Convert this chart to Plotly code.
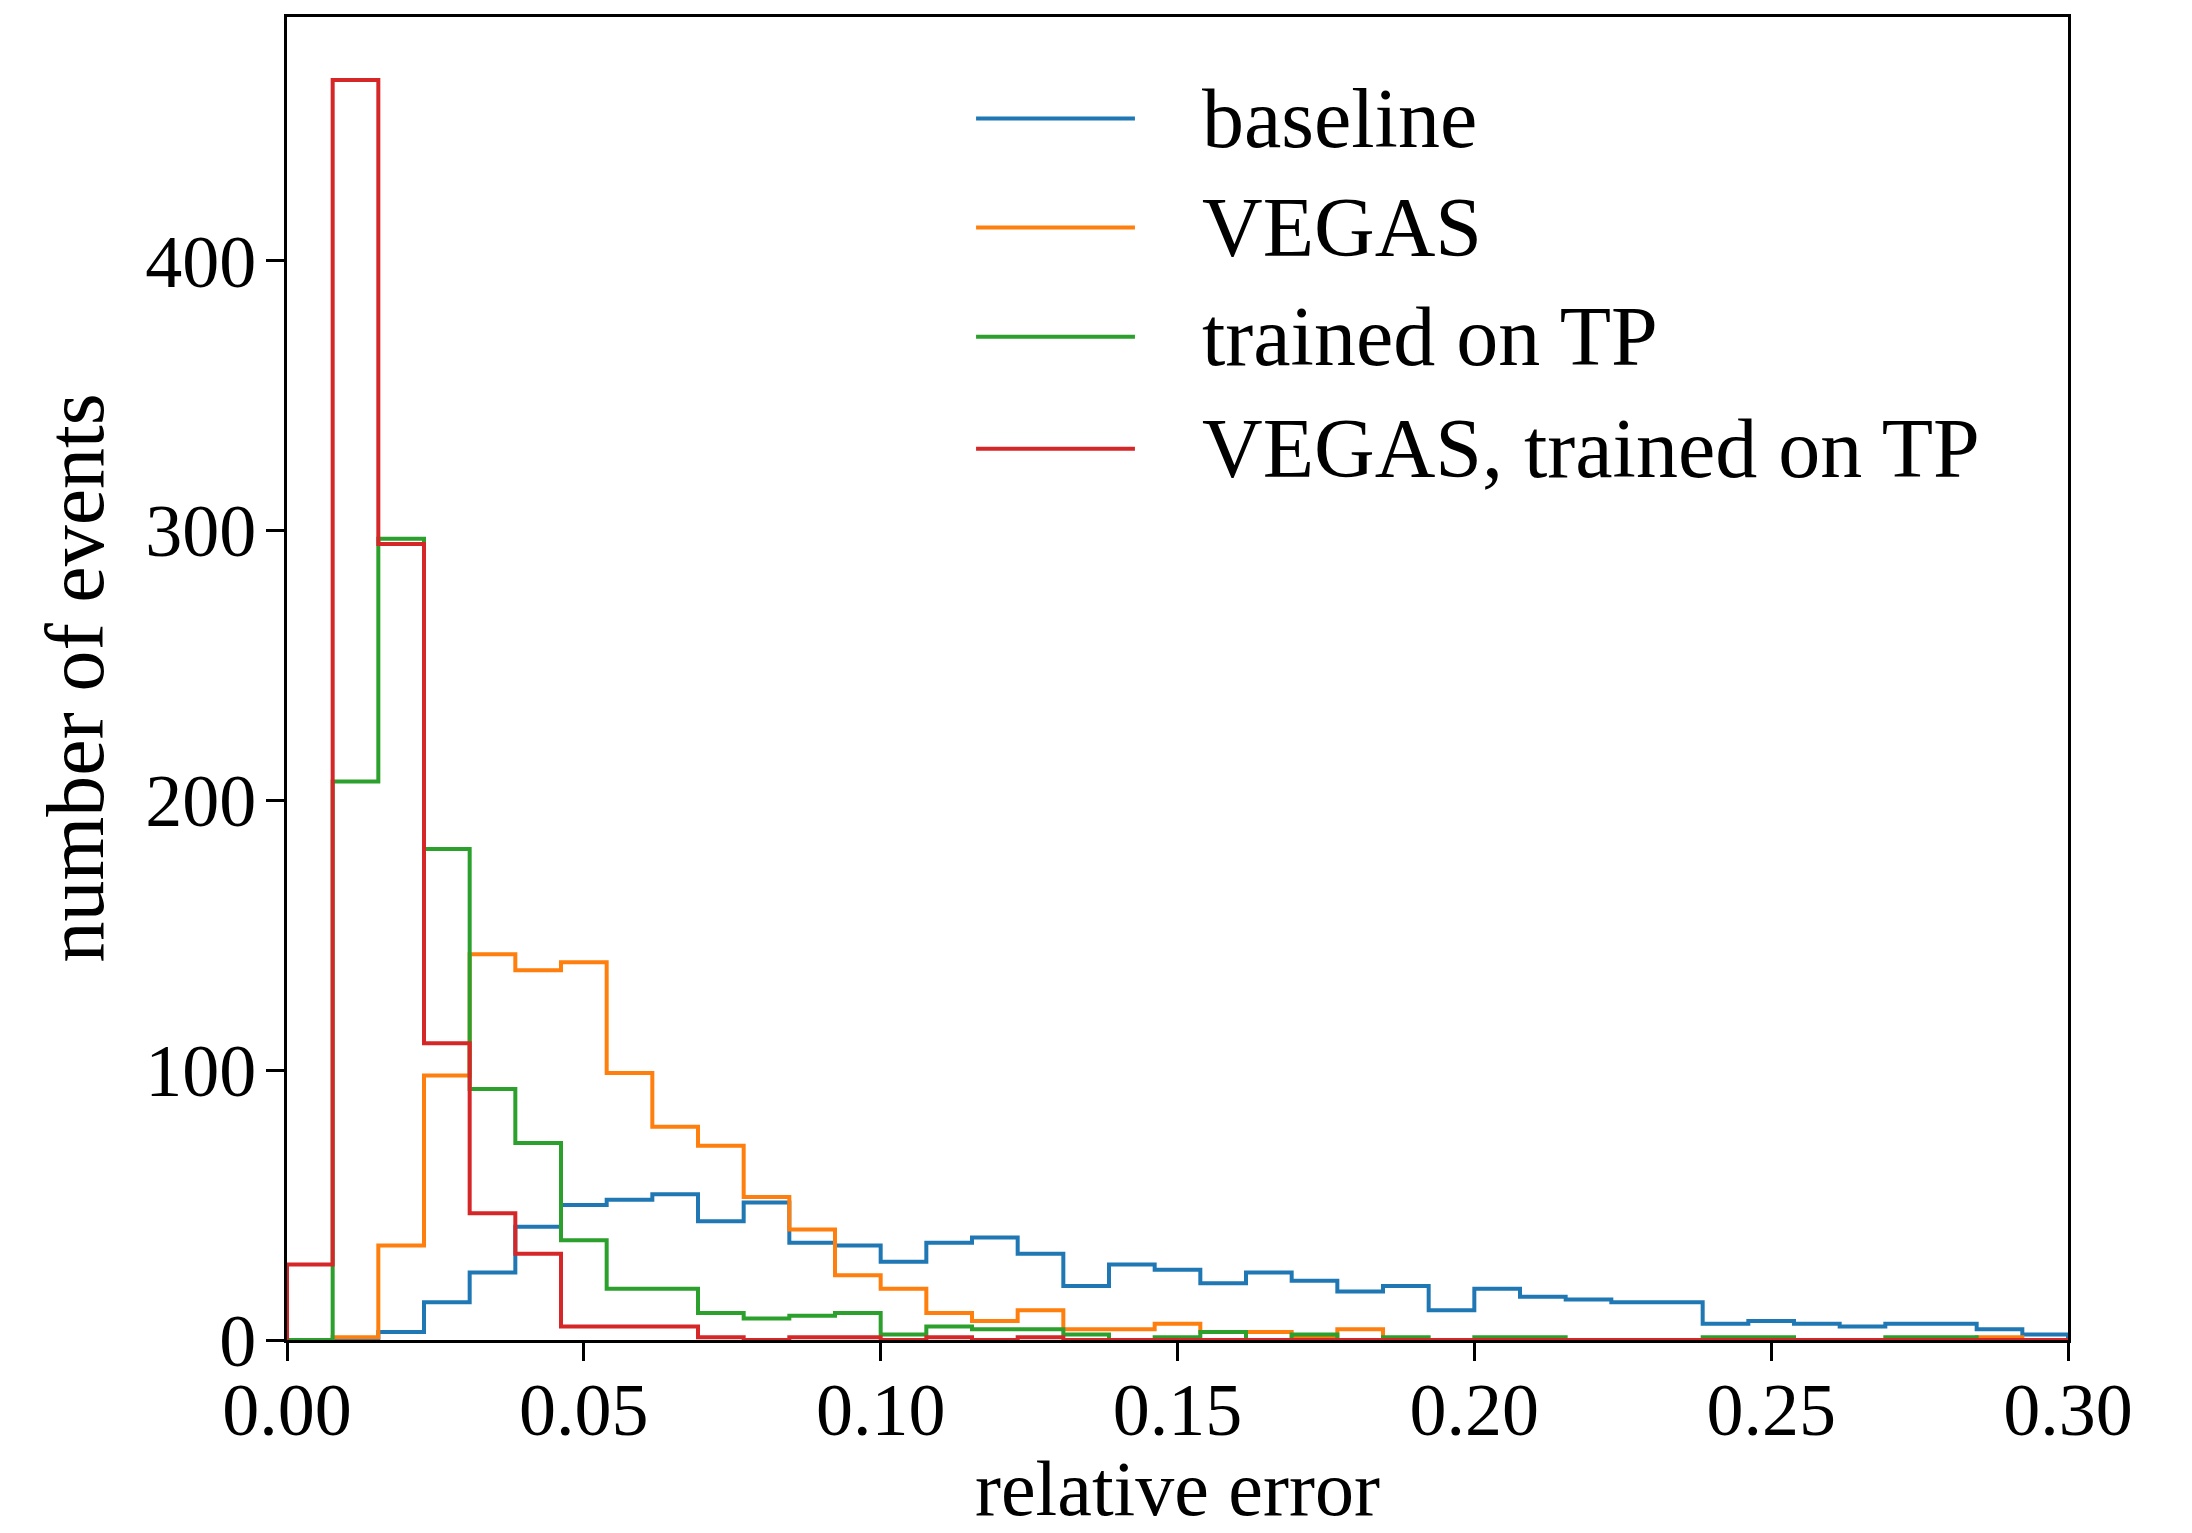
"""
Histogram of the relative error for four integrator set-ups
(step outlines, matplotlib-like look).
"""

import numpy as np
import plotly.graph_objects as go

# ------------------------------------------------------------------ #
# Data: counts per bin, 39 bins between 0 and 0.3                      #
# ------------------------------------------------------------------ #
X_MIN, X_MAX, N_BINS = 0.0, 0.30, 39

baseline = [0, 0, 3, 14, 25, 42, 50, 52, 54, 44, 51, 36, 35, 29, 36, 38, 32, 20,
            28, 26, 21, 25, 22, 18, 20, 11, 19, 16, 15, 14, 14, 6, 7, 6, 5, 6,
            6, 4, 2]
vegas = [0, 1, 35, 98, 143, 137, 140, 99, 79, 72, 53, 41, 24, 19, 10, 7, 11, 4,
         4, 6, 3, 3, 1, 4, 0, 0, 0, 0, 0, 0, 0, 0, 0, 0, 0, 0, 0, 1, 0]
trained_tp = [0, 207, 297, 182, 93, 73, 37, 19, 19, 10, 8, 9, 10, 2, 5, 4, 4, 2,
              0, 1, 3, 0, 2, 0, 1, 0, 1, 1, 0, 0, 0, 1, 1, 0, 0, 1, 1, 0, 0]
vegas_trained_tp = [28, 467, 295, 110, 47, 32, 5, 5, 5, 1, 0, 1, 1, 0, 1, 0, 1,
                    0, 0, 0, 0, 0, 0, 0, 0, 0, 0, 0, 0, 0, 0, 0, 0, 0, 0, 0, 0,
                    0, 0]

series_names = ["baseline", "VEGAS", "trained on TP", "VEGAS, trained on TP"]
series_counts = [baseline, vegas, trained_tp, vegas_trained_tp]
series_colors = ["#1f77b4", "#ff7f0e", "#2ca02c", "#d62728"]

x_ticks = [0.0, 0.05, 0.10, 0.15, 0.20, 0.25, 0.30]
y_ticks = [0, 100, 200, 300, 400]

FONT = "Liberation Serif"


def step_outline(counts, edges):
    """x/y for a closed step outline (like histtype='step')."""
    xs = np.concatenate([[edges[0]], edges[:-1], [edges[-1]]])
    ys = np.concatenate([[0], counts, [0]])
    return xs, ys


def main():
    edges = np.linspace(X_MIN, X_MAX, N_BINS + 1)
    y_top = 1.05 * max(max(c) for c in series_counts)

    fig = go.Figure()

    for name, counts, color in zip(series_names, series_counts, series_colors):
        xs, ys = step_outline(np.array(counts), edges)
        fig.add_trace(go.Scatter(
            x=xs, y=ys, mode="lines", name=name,
            line=dict(color=color, width=4, shape="hv"),
            showlegend=False, cliponaxis=True,
        ))

    # ------------------------------------------------------------------ #
    # Hand-made legend (long handles, no frame)                           #
    # ------------------------------------------------------------------ #
    leg_y = [0.9232, 0.8408, 0.7584, 0.6737]
    for name, color, ly in zip(series_names, series_colors, leg_y):
        fig.add_shape(type="line", xref="paper", yref="paper",
                      x0=0.3869, x1=0.4761, y0=ly, y1=ly,
                      line=dict(color=color, width=4))
        fig.add_annotation(xref="paper", yref="paper", x=0.5126, y=ly,
                           text=name, showarrow=False,
                           xanchor="left", yanchor="middle",
                           font=dict(family=FONT, size=84, color="black"))

    # axis titles placed by hand so the margins stay fixed
    fig.add_annotation(xref="paper", yref="paper", x=0.5, y=-0.1126,
                       text="relative error", showarrow=False,
                       xanchor="center", yanchor="middle",
                       font=dict(family=FONT, size=78, color="black"))
    fig.add_annotation(xref="paper", yref="paper", x=-0.119, y=0.5,
                       text="number of events", showarrow=False, textangle=-90,
                       xanchor="center", yanchor="middle",
                       font=dict(family=FONT, size=82, color="black"))

    axis_common = dict(
        showline=True, mirror=True, linecolor="black", linewidth=3,
        ticks="outside", ticklen=18, tickwidth=3, tickcolor="black",
        showgrid=False, zeroline=False, automargin=False,
        tickfont=dict(family=FONT, size=74, color="black"),
    )

    fig.update_layout(
        width=2192, height=1533,
        margin=dict(l=287, r=124, t=17, b=193),
        paper_bgcolor="white", plot_bgcolor="white",
        xaxis=dict(range=[X_MIN, X_MAX], tickvals=x_ticks, tickformat=".2f",
                   ticklabelstandoff=-15, **axis_common),
        yaxis=dict(range=[0, y_top], tickvals=y_ticks,
                   ticklabelstandoff=-5, **axis_common),
    )

    fig.write_html("out.html", config={"displayModeBar": False},
                   post_script="document.body.style.margin='0';")


if __name__ == "__main__":
    main()
